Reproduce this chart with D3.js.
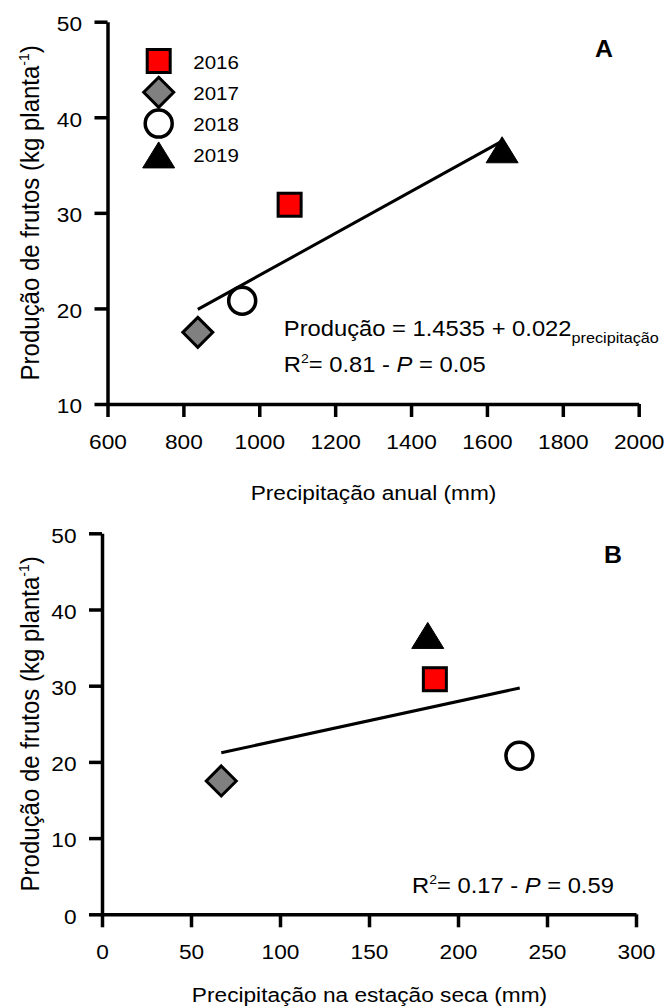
<!DOCTYPE html>
<html><head><meta charset="utf-8">
<script src="https://cdn.jsdelivr.net/npm/d3@7"></script>
<style>html,body{margin:0;padding:0;background:#fff;} svg{display:block;}</style>
</head><body>
<svg id="chart" width="667" height="1007"></svg>
<script>
// ---- data ----
const years = ["2016", "2017", "2018", "2019"];
const symbolKinds = ["square", "diamond", "circle", "triangle"];
const annualPrecip = [1080, 838, 955, 1640];       // mm
const dryPrecip = [187, 67, 234.5, 183];           // mm
const production = [30.85, 17.5, 20.8, 36.6];      // kg planta-1
const fitAnnualX = [838, 1640];
const fitAnnualY = [19.9, 37.5];
const fitDryX = [67, 234.7];
const fitDryY = [21.2, 29.7];
const annualTicks = [600, 800, 1000, 1200, 1400, 1600, 1800, 2000];
const dryTicks = [0, 50, 100, 150, 200, 250, 300];
const prodTicksA = [10, 20, 30, 40, 50];
const prodTicksB = [0, 10, 20, 30, 40, 50];

// ---- style ----
const FONT = '"Liberation Sans", Arial, Helvetica, sans-serif';
const SX = 1.08; // horizontal stretch of the original figure's text
const fills = { square: "#ff0000", diamond: "#808080", circle: "#ffffff", triangle: "#000000" };

const svg = d3.select("#chart");

function stretchAxisText(sel) {
  sel.each(function () {
    const t = d3.select(this);
    const x = +t.attr("x") || 0, y = +t.attr("y") || 0;
    t.attr("x", 0).attr("y", 0).attr("transform", `translate(${x},${y}) scale(${SX},1)`);
  });
}

function addText(g, x, y, parts, opts = {}) {
  const t = g.append("text")
    .attr("transform", `translate(${x},${y}) scale(${SX},1)` + (opts.rotate ? " rotate(-90)" : ""))
    .attr("text-anchor", opts.anchor || "start")
    .attr("font-family", FONT)
    .attr("font-size", opts.size || 20)
    .attr("font-weight", opts.weight || "normal")
    .attr("fill", "#000");
  parts.forEach(p => {
    const s = t.append("tspan").text(p.t);
    if (p.size) s.attr("font-size", p.size);
    if (p.dy) s.attr("dy", p.dy);
    if (p.italic) s.attr("font-style", "italic");
  });
  return t;
}

function drawMarker(g, kind, cx, cy) {
  const sw = 3;
  if (kind === "square") {
    g.append("rect").attr("x", cx - 11.5).attr("y", cy - 11.5).attr("width", 23).attr("height", 23)
      .attr("fill", fills.square).attr("stroke", "#000").attr("stroke-width", sw);
  } else if (kind === "diamond") {
    const h = 15;
    g.append("path").attr("d", `M${cx},${cy - h}L${cx + h},${cy}L${cx},${cy + h}L${cx - h},${cy}Z`)
      .attr("fill", fills.diamond).attr("stroke", "#000").attr("stroke-width", sw).attr("stroke-linejoin", "miter");
  } else if (kind === "circle") {
    g.append("circle").attr("cx", cx).attr("cy", cy).attr("r", 13.5)
      .attr("fill", fills.circle).attr("stroke", "#000").attr("stroke-width", 3.5);
  } else {
    const w = 16, h = 13;
    g.append("path").attr("d", `M${cx},${cy - h}L${cx + w},${cy + h}L${cx - w},${cy + h}Z`)
      .attr("fill", fills.triangle).attr("stroke", "#000").attr("stroke-width", 1);
  }
}

function drawPanel(cfg) {
  const g = svg.append("g");
  const x = d3.scaleLinear().domain(cfg.xDomain).range(cfg.xRange);
  const y = d3.scaleLinear().domain(cfg.yDomain).range(cfg.yRange);

  // axes
  const xa = g.append("g").attr("transform", `translate(0,${cfg.yRange[0]})`)
    .call(d3.axisBottom(x).tickValues(cfg.xTicks).tickSize(13).tickSizeOuter(0).tickPadding(17).tickFormat(d3.format("d")));
  const ya = g.append("g").attr("transform", `translate(${cfg.xRange[0]},0)`)
    .call(d3.axisLeft(y).tickValues(cfg.yTicks).tickSize(13).tickSizeOuter(0).tickPadding(12.5).tickFormat(d3.format("d")));
  [xa, ya].forEach(a => {
    a.select(".domain").attr("stroke", "#000").attr("stroke-width", 3.5);
    a.selectAll(".tick line").attr("stroke", "#000").attr("stroke-width", 3.5);
    a.selectAll(".tick text").attr("font-family", FONT).attr("font-size", 21).attr("fill", "#000");
  });
  ya.selectAll(".tick text").attr("dy", "0.42em");
  stretchAxisText(xa.selectAll(".tick text"));
  stretchAxisText(ya.selectAll(".tick text"));

  // regression line
  const pts = cfg.fitX.map((v, i) => [v, cfg.fitY[i]]);
  g.append("path").datum(pts)
    .attr("d", d3.line().x(d => x(d[0])).y(d => y(d[1])))
    .attr("fill", "none").attr("stroke", "#000").attr("stroke-width", 3);

  // points
  cfg.xVals.forEach((v, i) => drawMarker(g, symbolKinds[i], x(v), y(production[i])));

  // titles
  addText(g, cfg.yTitlePos[0], cfg.yTitlePos[1],
    [{ t: "Produção de frutos (kg planta" }, { t: "-1", size: 14, dy: -9 }, { t: ")", size: 24, dy: 9 }],
    { rotate: true, anchor: "middle", size: 24 });
  addText(g, cfg.xTitlePos[0], cfg.xTitlePos[1], [{ t: cfg.xTitle }], { anchor: "middle", size: 21 });
  addText(g, cfg.labelPos[0], cfg.labelPos[1], [{ t: cfg.label }], { anchor: "middle", size: 23, weight: "bold" });
  return g;
}

const gA = drawPanel({
  xDomain: [600, 2000], yDomain: [10, 50], xRange: [107.5, 638.7], yRange: [404, 21.7],
  xTicks: annualTicks, yTicks: prodTicksA, xVals: annualPrecip,
  fitX: fitAnnualX, fitY: fitAnnualY,
  xTitle: "Precipitação anual (mm)", xTitlePos: [373.5, 500], yTitlePos: [39, 212.8],
  label: "A", labelPos: [604, 57]
});
const gB = drawPanel({
  xDomain: [0, 300], yDomain: [0, 50], xRange: [102, 636], yRange: [914.3, 533.3],
  xTicks: dryTicks, yTicks: prodTicksB, xVals: dryPrecip,
  fitX: fitDryX, fitY: fitDryY,
  xTitle: "Precipitação na estação seca (mm)", xTitlePos: [369.5, 1001.5], yTitlePos: [39, 723.8],
  label: "B", labelPos: [613, 563]
});

// equations
addText(gA, 283.8, 336, [{ t: "Produção = 1.4535 + 0.022" }, { t: "precipitação", size: 15, dy: 7 }], { size: 22 });
addText(gA, 283.8, 371.7, [{ t: "R" }, { t: "2", size: 13, dy: -9 }, { t: "= 0.81 - ", size: 22, dy: 9 }, { t: "P", italic: true }, { t: " = 0.05" }], { size: 22 });
addText(gB, 412, 893, [{ t: "R" }, { t: "2", size: 13, dy: -9 }, { t: "= 0.17 - ", size: 22, dy: 9 }, { t: "P", italic: true }, { t: " = 0.59" }], { size: 22 });

// legend
const leg = svg.append("g");
years.forEach((yr, i) => {
  const cy = 61 + i * 31.3;
  drawMarker(leg, symbolKinds[i], 158.7, cy);
  addText(leg, 193.3, cy + 7.5, [{ t: yr }], { size: 19 });
});
</script>
</body></html>
